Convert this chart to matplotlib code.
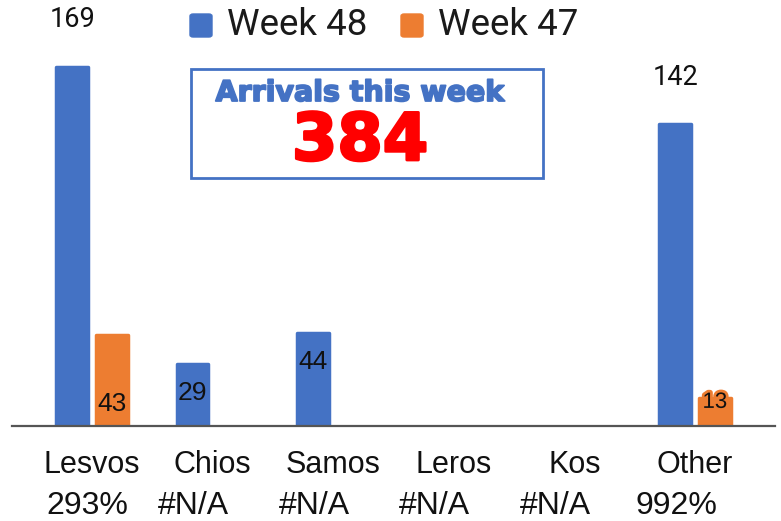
import matplotlib
matplotlib.use("Agg")
import matplotlib.pyplot as plt
import matplotlib.patheffects as pe
from matplotlib.patches import Rectangle, FancyBboxPatch
import numpy as np

# data
islands = ["Lesvos", "Chios", "Samos", "Leros", "Kos", "Other"]
change = ["293%", "#N/A", "#N/A", "#N/A", "#N/A", "992%"]
week48 = [169, 29, 44, 0, 0, 142]
week47 = [43, 0, 0, 0, 0, 13]
total_this_week = 384

blue = "#4472C4"
orange = "#ED7D31"

W, H, DPI = 781, 521, 100
fig = plt.figure(figsize=(W / DPI, H / DPI), dpi=DPI)
ax = fig.add_axes([12 / W, (H - 426) / H, (775 - 12) / W, 426 / H])

x = np.arange(len(islands))
bw = 0.262
off = 0.165
b48 = ax.bar(x - off, week48, bw, color=blue, edgecolor=blue, linewidth=2.5)
b47 = ax.bar(x + off, week47, bw, color=orange, edgecolor=orange, linewidth=2.5)
for r in list(b48) + list(b47):
    r.set_joinstyle("round")
    if r.get_height() == 0:
        r.set_visible(False)

ax.set_xlim(-0.663, 5.663)
ax.set_ylim(0, 200.6)
for s in ["top", "left", "right"]:
    ax.spines[s].set_visible(False)
ax.spines["bottom"].set_color("#555555")
ax.spines["bottom"].set_linewidth(1.6)
ax.set_xticks([])
ax.set_yticks([])

# value labels (pixel offsets from bar top)
lab_dy48 = [48, -29, -29, 0, 0, 47]
lab_dy47 = [-69, 0, 0, 0, 0, -4]
for i in range(len(islands)):
    v = week48[i]
    if v:
        big = v > 100
        ax.annotate(str(v), (x[i] - off, v), xytext=(0, lab_dy48[i]),
                    textcoords="offset pixels", ha="center", va="center",
                    fontsize=19.5 if big else 19,
                    family="Roboto" if big else "Liberation Sans", color="#111111")
    v = week47[i]
    if v:
        t = ax.annotate(str(v), (x[i] + off, v), xytext=(0, lab_dy47[i]),
                        textcoords="offset pixels", ha="center", va="center",
                        fontsize=19 if v > 20 else 16,
                        family="Liberation Sans", color="#111111")
        if v < 20:
            t.set_path_effects([pe.withStroke(linewidth=4, foreground=orange)])

# category labels, two rows
for i in range(len(islands)):
    ax.annotate(islands[i], (x[i], 0), xytext=(0, -39), textcoords="offset pixels",
                ha="center", va="center", fontsize=22, family="Liberation Sans",
                color="#111111", annotation_clip=False)
    dx = -5 if i == 0 else -19
    ax.annotate(change[i], (x[i], 0), xytext=(dx, -80), textcoords="offset pixels",
                ha="center", va="center", fontsize=23, family="Liberation Sans",
                color="#111111", annotation_clip=False)

# legend
for cx, col, lab in [(190, blue, "Week 48"), (401, orange, "Week 47")]:
    fig.patches.append(FancyBboxPatch((cx / W, 1 - 37 / H), 22 / W, 23 / H,
                                      boxstyle="round,pad=0,rounding_size=0.004",
                                      transform=fig.transFigure, color=col))
    fig.text((cx + 37) / W, 1 - 25 / H, lab, ha="left", va="center",
             fontsize=26.5, family="Roboto", color="#1a1a1a")

# text box
fig.patches.append(Rectangle((191 / W, 1 - 178 / H), 352 / W, 109 / H,
                             transform=fig.transFigure, fill=False,
                             edgecolor=blue, linewidth=2))
t1 = fig.text(360 / W, 1 - 93 / H, "Arrivals this week", ha="center", va="center",
              fontsize=20.5, fontweight="bold", family="DejaVu Sans", color=blue)
t1.set_path_effects([pe.withStroke(linewidth=1.3, foreground=blue)])
t2 = fig.text(360 / W, 1 - 142 / H, str(total_this_week), ha="center", va="center",
              fontsize=47, fontweight="bold", family="DejaVu Sans", color="#FF0000")
t2.set_path_effects([pe.withStroke(linewidth=2, foreground="#FF0000")])

fig.savefig("out.png", dpi=DPI)
